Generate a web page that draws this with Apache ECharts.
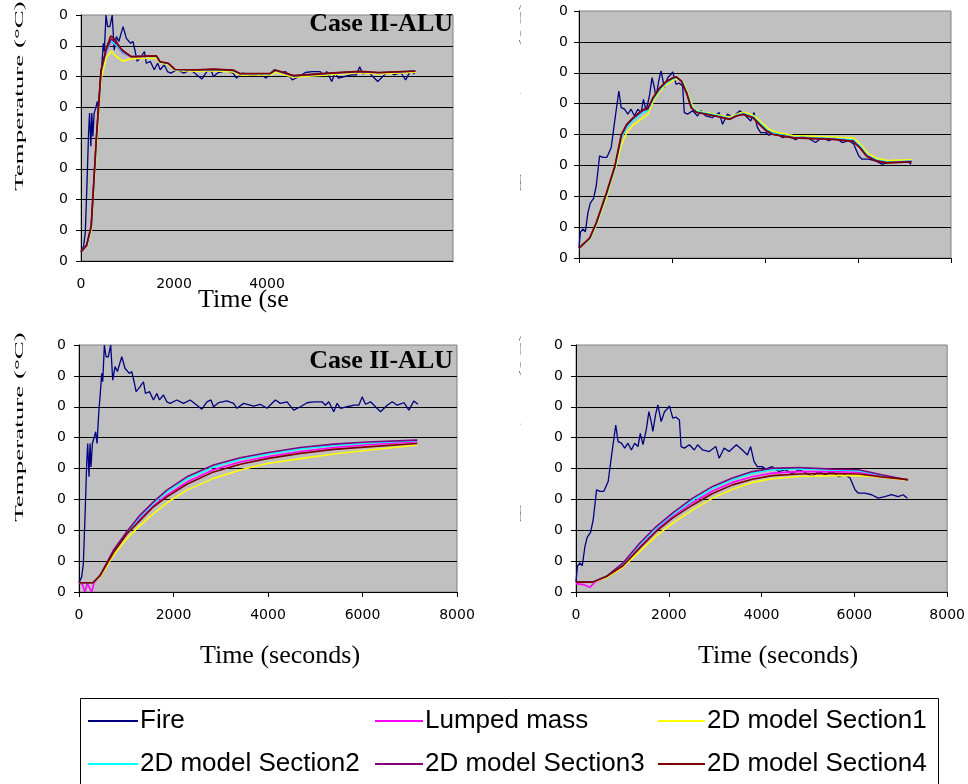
<!DOCTYPE html>
<html>
<head>
<meta charset="utf-8">
<script src="https://cdn.jsdelivr.net/npm/echarts@6/dist/echarts.min.js"></script>
<style>
html,body{margin:0;padding:0;background:#fff;}
#chart{width:968px;height:784px;}
</style>
</head>
<body>
<div id="chart"></div>
<script>
// ---------- tick labels ----------
const yTickLabels = ['0','0','0','0','0','0','0','0','0'];
const xTickLabelsTL = ['0','2000','4000'];
const xTickLabelsTR = [];
const xTickLabelsBottom = ['0','2000','4000','6000','8000'];

// ---------- series names ----------
const seriesNames = ['Fire','Lumped mass','2D model Section1','2D model Section2','2D model Section3','2D model Section4'];

// ---------- Fire (case A: left panels) [time s, temperature] ----------
const fireA = [[0,30],[57,49],[92,92],[127,243],[163,416],[184,481],[212,373],[233,481],[254,405],[283,481],[325,503],[353,519],[382,481],[417,578],[445,632],[481,708],[502,681],[537,800],[572,762],[622,762],[671,800],[714,686],[763,730],[813,714],[905,762],[975,724],[1067,708],[1117,714],[1166,681],[1208,649],[1293,665],[1364,681],[1406,643],[1491,649],[1576,622],[1647,643],[1703,622],[1788,638],[1859,616],[1929,611],[2071,622],[2212,611],[2353,622],[2495,605],[2601,592],[2707,616],[2792,622],[2848,600],[2954,613],[3131,619],[3272,611],[3343,595],[3484,611],[3696,602],[3837,608],[3979,595],[4156,622],[4262,611],[4403,616],[4544,589],[4686,600],[4827,613],[4968,616],[5145,616],[5216,605],[5286,616],[5392,584],[5463,611],[5534,595],[5675,600],[5817,605],[5922,605],[5993,632],[6064,608],[6170,616],[6276,600],[6382,584],[6523,605],[6629,616],[6735,605],[6876,613],[6982,589],[7088,619],[7173,608]];

// ---------- Fire (case B: right panels) ----------
const fireB = [[0,32],[29,83],[86,94],[136,85],[193,148],[243,178],[314,193],[371,234],[443,331],[514,326],[600,326],[693,358],[764,439],[857,541],[907,487],[979,482],[1050,466],[1121,482],[1193,460],[1264,482],[1336,471],[1386,514],[1443,477],[1514,525],[1571,584],[1621,552],[1657,520],[1714,574],[1764,606],[1836,552],[1907,584],[1979,595],[2014,603],[2086,563],[2157,566],[2229,557],[2264,471],[2336,466],[2443,477],[2550,460],[2621,477],[2729,460],[2871,455],[3014,471],[3086,433],[3193,466],[3300,455],[3457,477],[3586,460],[3693,444],[3764,471],[3836,423],[3907,406],[4014,406],[4086,398],[4229,406],[4371,390],[4514,396],[4657,383],[4800,396],[4943,387],[5086,374],[5229,390],[5371,380],[5514,390],[5657,374],[5800,380],[5907,369],[6014,331],[6086,320],[6229,320],[6371,315],[6514,304],[6657,309],[6800,315],[6943,309],[7050,315],[7143,304]];

// ---------- top-left panel models ----------
const tlLumped = [[0,30],[120,50],[220,110],[330,390],[430,610],[540,680],[650,714],[760,700],[900,676],[1080,664],[1620,665],[1700,646],[1880,640],[2020,621],[2500,620],[2850,621],[3270,618],[3420,608],[4070,608],[4180,618],[4570,601],[5430,610],[6000,615],[6400,611],[7190,617]];
const tlSec1 = [[0,30],[120,48],[220,100],[330,370],[430,590],[540,660],[650,681],[760,665],[900,650],[1080,658],[1620,660],[1700,645],[1880,638],[2020,620],[2500,617],[2850,619],[3270,615],[3420,605],[4070,605],[4180,614],[4570,598],[5430,607],[6000,612],[6400,608],[7190,614]];
const tlSec2 = [[0,30],[120,50],[220,108],[330,392],[430,612],[540,682],[650,716],[760,702],[900,678],[1080,665],[1620,666],[1700,647],[1880,641],[2020,622],[2500,621],[2850,622],[3270,619],[3420,609],[4070,609],[4180,619],[4570,602],[5430,611],[6000,616],[6400,612],[7190,618]];
const tlSec3 = [[0,30],[120,51],[220,112],[330,396],[430,616],[540,686],[650,722],[760,708],[900,682],[1080,665],[1620,667],[1700,648],[1880,642],[2020,623],[2500,621],[2850,623],[3270,620],[3420,609],[4070,610],[4180,620],[4570,602],[5430,611],[6000,616],[6400,612],[7190,617]];
const tlSec4 = [[0,30],[120,50],[220,115],[330,400],[430,620],[540,690],[640,732],[720,722],[860,690],[1080,664],[1620,667],[1700,648],[1880,643],[2020,623],[2500,622],[2850,624],[3270,621],[3420,610],[4070,610],[4180,621],[4570,603],[5430,612],[6000,617],[6400,613],[7190,618]];

// ---------- top-right panel models ----------
const trLumped = [[0,31],[230,63],[370,111],[590,205],[770,292],[910,390],[1020,425],[1160,448],[1380,475],[1480,480],[1590,514],[1735,547],[1880,569],[2020,581],[2100,585],[2210,573],[2320,534],[2430,486],[2530,473],[2950,461],[3250,451],[3395,462],[3540,467],[3750,456],[3895,434],[4040,413],[4180,402],[4600,391],[5460,386],[5900,381],[6050,360],[6190,332],[6400,316],[6620,310],[7150,313]];
const trSec1 = [[0,30],[230,60],[370,105],[590,195],[770,285],[910,365],[1020,405],[1160,430],[1380,455],[1480,465],[1590,505],[1735,540],[1880,562],[2020,575],[2130,582],[2240,570],[2350,530],[2460,485],[2560,475],[2950,465],[3240,456],[3400,466],[3560,472],[3780,460],[3930,438],[4080,418],[4220,408],[4600,397],[5460,392],[5920,388],[6070,365],[6220,338],[6420,322],[6640,316],[7150,318]];
const trSec2 = [[0,31],[230,62],[370,110],[590,203],[770,290],[910,388],[1020,422],[1160,446],[1380,472],[1480,478],[1590,512],[1735,545],[1880,567],[2020,580],[2110,584],[2220,572],[2330,533],[2440,486],[2540,474],[2950,462],[3250,452],[3395,463],[3545,468],[3755,457],[3900,435],[4050,414],[4190,403],[4600,392],[5460,387],[5900,382],[6055,361],[6195,333],[6405,317],[6625,311],[7150,314]];
const trSec3 = [[0,31],[230,64],[370,112],[590,208],[770,295],[910,396],[1020,429],[1160,452],[1380,479],[1480,483],[1590,517],[1735,549],[1880,571],[2020,583],[2095,586],[2205,573],[2315,535],[2420,486],[2525,472],[2950,460],[3245,450],[3390,461],[3535,466],[3745,455],[3890,433],[4035,412],[4175,401],[4600,390],[5460,385],[5895,379],[6045,358],[6185,331],[6395,315],[6615,309],[7150,312]];
const trSec4 = [[0,32],[230,65],[370,114],[590,211],[770,297],[910,400],[1020,432],[1160,454],[1380,481],[1480,485],[1590,519],[1735,551],[1880,573],[2020,584],[2090,587],[2200,573],[2310,535],[2415,486],[2520,472],[2950,459],[3240,449],[3385,460],[3530,465],[3740,454],[3885,432],[4030,411],[4170,400],[4600,389],[5460,384],[5890,378],[6040,357],[6180,330],[6390,314],[6610,308],[7150,311]];

// ---------- bottom-left panel models ----------
const blLumped = [[0,30],[70,25],[127,0],[175,28],[215,28],[269,0],[320,30],[445,52],[728,131],[1011,190],[1293,238],[1576,280],[1859,314],[2283,356],[2848,396],[3413,421],[3979,438],[4686,455],[5392,468],[6099,477],[7159,487]];
const blSec1 = [[0,30],[290,30],[445,48],[728,119],[1011,173],[1293,216],[1576,254],[1859,289],[2283,330],[2848,368],[3413,395],[3979,416],[4686,432],[5392,447],[6099,459],[7159,476]];
const blSec2 = [[0,30],[290,30],[445,53],[728,133],[1011,192],[1293,244],[1576,287],[1859,324],[2283,367],[2848,405],[3413,430],[3979,446],[4686,463],[5392,475],[6099,483],[7159,490]];
const blSec3 = [[0,30],[300,30],[445,54],[728,135],[1011,195],[1293,249],[1576,292],[1859,330],[2283,373],[2848,411],[3413,435],[3979,451],[4686,468],[5392,479],[6099,486],[7159,492]];
const blSec4 = [[0,30],[290,30],[445,52],[728,127],[1011,188],[1293,232],[1576,276],[1859,308],[2283,349],[2848,389],[3413,414],[3979,432],[4686,449],[5392,462],[6099,470],[7159,481]];

// ---------- bottom-right panel models ----------
const brLumped = [[0,27],[157,24],[300,15],[407,32],[657,49],[1014,89],[1371,147],[1729,202],[2086,246],[2514,290],[2943,327],[3371,355],[3800,373],[4229,385],[4800,390],[5514,390],[6086,388],[6586,376],[7157,363]];
const brSec1 = [[0,32],[357,32],[657,47],[1014,81],[1371,131],[1729,182],[2086,223],[2514,266],[2943,304],[3371,333],[3800,355],[4229,367],[4800,374],[5514,377],[6086,377],[6586,372],[7157,362]];
const brSec2 = [[0,32],[357,32],[657,51],[1014,92],[1371,153],[1729,207],[2086,251],[2514,298],[2943,336],[3371,364],[3800,385],[4229,396],[4800,399],[5514,395],[6086,393],[6586,378],[7157,363]];
const brSec3 = [[0,32],[357,32],[657,51],[1014,94],[1371,158],[1729,212],[2086,256],[2514,304],[2943,342],[3371,369],[3800,390],[4229,401],[4800,403],[5514,398],[6086,396],[6586,380],[7157,363]];
const brSec4 = [[0,32],[357,32],[657,50],[1014,85],[1371,142],[1729,196],[2086,240],[2514,282],[2943,319],[3371,347],[3800,365],[4229,377],[4800,382],[5514,384],[6086,382],[6586,373],[7157,364]];

// ---------- styling ----------
const colors = ['#000080','#FF00FF','#FFFF00','#00FFFF','#800080','#800000'];
const panelData = [
  [fireA, tlLumped, tlSec1, tlSec2, tlSec3, tlSec4],
  [fireB, trLumped, trSec1, trSec2, trSec3, trSec4],
  [fireA, blLumped, blSec1, blSec2, blSec3, blSec4],
  [fireB, brLumped, brSec1, brSec2, brSec3, brSec4]
];
const grids = [
  {left:81, top:15, width:372, height:246},
  {left:579, top:11, width:372, height:247},
  {left:79, top:345, width:378, height:247},
  {left:576, top:345, width:372, height:247}
];
const xLabelSets = [xTickLabelsTL, xTickLabelsTR, xTickLabelsBottom, xTickLabelsBottom];
const xTickShow = [false, true, true, true];
const yLabelMargin = [13, 11, 13, 13];

const labelFont = {fontFamily:'DejaVu Sans', fontSize:14, color:'#000'};

const option = {
  animation:false,
  backgroundColor:'#ffffff',
  grid: grids.map(g => Object.assign({}, g, {show:true, backgroundColor:'#C0C0C0', borderColor:'#808080', borderWidth:1, containLabel:false})),
  xAxis: grids.map((g,i) => ({
    gridIndex:i, type:'value', min:0, max:8000, interval:2000,
    axisLine:{show:true, onZero:false, lineStyle:{color:'#000', width:1}},
    axisTick:{show:xTickShow[i], length:5, lineStyle:{color:'#000'}},
    axisLabel:Object.assign({show:xLabelSets[i].length>0, margin:16,
      formatter:(v)=> xLabelSets[i].includes(String(v)) ? String(v) : ''}, labelFont),
    splitLine:{show:false}
  })),
  yAxis: grids.map((g,i) => ({
    gridIndex:i, type:'value', min:0, max:800, interval:100,
    axisLine:{show:true, onZero:false, lineStyle:{color:'#000', width:1}},
    axisTick:{show:true, length:5, lineStyle:{color:'#000'}},
    axisLabel:Object.assign({margin:yLabelMargin[i],
      formatter:(v)=> yTickLabels[Math.round(v/100)]}, labelFont),
    splitLine:{show:true, showMaxLine:false, lineStyle:{color:'#000', width:1}}
  })),
  legend: [
    {names:[seriesNames[0], seriesNames[3]], left:88, w:50},
    {names:[seriesNames[1], seriesNames[4]], left:375, w:48},
    {names:[seriesNames[2], seriesNames[5]], left:658, w:47}
  ].map(l => ({
    data:l.names, orient:'vertical', left:l.left, top:707, padding:0,
    itemWidth:l.w, itemHeight:2, itemGap:15, icon:'rect', selectedMode:false,
    textStyle:{fontFamily:'Liberation Sans', fontSize:26, color:'#000', lineHeight:28, padding:[0,0,0,-3]}
  })),
  series: [],
  graphic: [
    {type:'rect', shape:{x:80.5, y:698.5, width:858, height:120}, style:{fill:'none', stroke:'#000', lineWidth:1}},
    {type:'text', x:453, y:24, z:10, style:{text:'Case II-ALU', font:'bold 26px "Liberation Serif", serif', fill:'#000', textAlign:'right', align:'right', textVerticalAlign:'middle', verticalAlign:'middle'}},
    {type:'text', x:453, y:361, z:10, style:{text:'Case II-ALU', font:'bold 26px "Liberation Serif", serif', fill:'#000', textAlign:'right', align:'right', textVerticalAlign:'middle', verticalAlign:'middle'}},
    {type:'text', x:198, y:300, style:{text:'Time (se', font:'26px "Liberation Serif", serif', fill:'#000', textAlign:'left', align:'left', textVerticalAlign:'middle', verticalAlign:'middle'}},
    {type:'text', x:280, y:656, style:{text:'Time (seconds)', font:'26px "Liberation Serif", serif', fill:'#000', textAlign:'center', align:'center', textVerticalAlign:'middle', verticalAlign:'middle'}},
    {type:'text', x:778, y:656, style:{text:'Time (seconds)', font:'26px "Liberation Serif", serif', fill:'#000', textAlign:'center', align:'center', textVerticalAlign:'middle', verticalAlign:'middle'}},
    {type:'text', x:19.5, y:96, rotation:Math.PI/2, scaleY:0.5, style:{text:'Temperature (°C)', font:'27px "Liberation Serif", serif', fill:'#000', textAlign:'center', align:'center', textVerticalAlign:'middle', verticalAlign:'middle'}},
    {type:'text', x:19.5, y:427, rotation:Math.PI/2, scaleY:0.5, style:{text:'Temperature (°C)', font:'27px "Liberation Serif", serif', fill:'#000', textAlign:'center', align:'center', textVerticalAlign:'middle', verticalAlign:'middle'}},
    {type:'text', x:524, y:96, rotation:Math.PI/2, scaleY:0.5, style:{text:'Temperature (°C)', font:'27px "Liberation Serif", serif', fill:'#000', textAlign:'center', align:'center', textVerticalAlign:'middle', verticalAlign:'middle'}},
    {type:'text', x:524, y:427, rotation:Math.PI/2, scaleY:0.5, style:{text:'Temperature (°C)', font:'27px "Liberation Serif", serif', fill:'#000', textAlign:'center', align:'center', textVerticalAlign:'middle', verticalAlign:'middle'}},
    {type:'rect', z:50, shape:{x:520.5, y:0, width:32, height:620}, style:{fill:'#ffffff'}}
  ]
};

panelData.forEach((arrs, gi) => {
  arrs.forEach((d, si) => {
    option.series.push({
      name: seriesNames[si], type:'line', xAxisIndex:gi, yAxisIndex:gi,
      data: d, showSymbol:false, symbol:'none', smooth:false,
      color: colors[si],
      lineStyle:{color:colors[si], width: si===0 ? 1.3 : 1.6},
      emphasis:{disabled:true}, z: 3 + si
    });
  });
});

const chart = echarts.init(document.getElementById('chart'), null, {renderer:'canvas'});
chart.setOption(option);
</script>
</body>
</html>
